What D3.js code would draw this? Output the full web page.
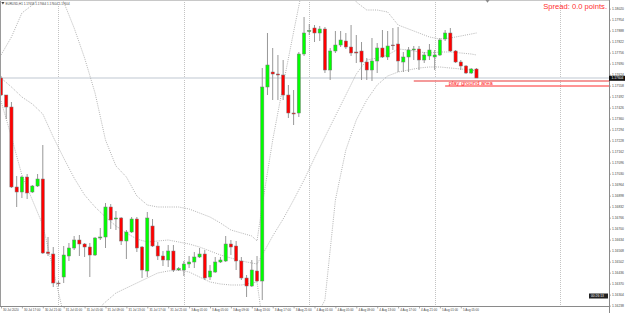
<!DOCTYPE html>
<html><head><meta charset="utf-8">
<script src="https://cdn.jsdelivr.net/npm/d3@7"></script>
<style>html,body{margin:0;padding:0;background:#fff;overflow:hidden}svg{display:block;font-family:"Liberation Sans",Arial,sans-serif}</style>
</head><body><svg id="c" width="625" height="313"></svg>
<script>
const symbolTitle = "EURUSD,H1  1.17658 1.17664 1.17604 1.17604";
const spreadText = "Spread: 0.0 points.";
const zoneLabel = "play ground area";
const bidPrice = 1.17604;
const zoneTop = 1.17586, zoneBottom = 1.17556;
const timerText = "00:26:13";

const openP = [1.17604,1.17502,1.17430,1.16950,1.16920,1.17010,1.16920,1.16956,1.16998,1.16560,1.16548,1.16374,1.16410,1.16536,1.16584,1.16632,1.16608,1.16590,1.16542,1.16644,1.16650,1.16830,1.16758,1.16764,1.16626,1.16680,1.16758,1.16590,1.16446,1.16716,1.16596,1.16536,1.16512,1.16566,1.16452,1.16452,1.16488,1.16500,1.16530,1.16548,1.16410,1.16440,1.16500,1.16506,1.16608,1.16596,1.16506,1.16404,1.16356,1.16446,1.16386,1.17550,1.17640,1.17628,1.17622,1.17502,1.17394,1.17394,1.17748,1.17883,1.17904,1.17874,1.17898,1.17652,1.17766,1.17802,1.17826,1.17790,1.17760,1.17766,1.17700,1.17652,1.17706,1.17784,1.17730,1.17802,1.17808,1.17700,1.17730,1.17772,1.17778,1.17712,1.17736,1.17730,1.17742,1.17838,1.17874,1.17766,1.17700,1.17676,1.17634,1.17658];
const highP = [1.17616,1.17502,1.17460,1.17016,1.17016,1.17028,1.16962,1.17028,1.17202,1.16650,1.16590,1.16386,1.16596,1.16614,1.16656,1.16662,1.16614,1.16614,1.16650,1.16704,1.16854,1.16848,1.16806,1.16770,1.16692,1.16770,1.16770,1.16596,1.16800,1.16758,1.16620,1.16566,1.16602,1.16602,1.16470,1.16506,1.16536,1.16560,1.16584,1.16572,1.16482,1.16530,1.16530,1.16656,1.16632,1.16626,1.16530,1.16422,1.16512,1.16536,1.17664,1.17874,1.17784,1.17742,1.17712,1.17562,1.17532,1.17760,1.17970,1.17928,1.17922,1.17916,1.17910,1.17784,1.17886,1.17886,1.17874,1.17922,1.17862,1.17820,1.17724,1.17844,1.17814,1.17892,1.17886,1.17904,1.17910,1.17760,1.17790,1.17796,1.17796,1.17760,1.17808,1.17772,1.17844,1.17892,1.17904,1.17772,1.17712,1.17682,1.17664,1.17664];
const lowP = [1.17496,1.17358,1.16944,1.16830,1.16884,1.16878,1.16914,1.16950,1.16548,1.16536,1.16350,1.16356,1.16374,1.16506,1.16572,1.16536,1.16530,1.16410,1.16536,1.16632,1.16584,1.16698,1.16692,1.16602,1.16518,1.16674,1.16560,1.16404,1.16410,1.16590,1.16512,1.16476,1.16470,1.16440,1.16446,1.16416,1.16464,1.16464,1.16524,1.16392,1.16392,1.16434,1.16494,1.16500,1.16542,1.16452,1.16392,1.16290,1.16350,1.16380,1.16272,1.17502,1.17472,1.17472,1.17472,1.17364,1.17322,1.17370,1.17736,1.17862,1.17820,1.17826,1.17634,1.17592,1.17754,1.17790,1.17778,1.17736,1.17694,1.17592,1.17592,1.17586,1.17634,1.17724,1.17712,1.17772,1.17640,1.17640,1.17640,1.17712,1.17652,1.17694,1.17712,1.17652,1.17736,1.17826,1.17760,1.17694,1.17652,1.17628,1.17628,1.17604];
const closeP = [1.17502,1.17430,1.16950,1.16920,1.17010,1.16914,1.16956,1.16998,1.16554,1.16551,1.16374,1.16371,1.16542,1.16584,1.16632,1.16608,1.16590,1.16542,1.16644,1.16650,1.16830,1.16752,1.16764,1.16626,1.16680,1.16758,1.16584,1.16452,1.16764,1.16596,1.16536,1.16512,1.16566,1.16452,1.16461,1.16488,1.16500,1.16530,1.16548,1.16404,1.16446,1.16500,1.16512,1.16608,1.16590,1.16506,1.16404,1.16356,1.16452,1.16386,1.17550,1.17682,1.17628,1.17622,1.17502,1.17394,1.17388,1.17748,1.17874,1.17889,1.17874,1.17898,1.17652,1.17766,1.17802,1.17832,1.17790,1.17754,1.17754,1.17700,1.17652,1.17706,1.17784,1.17730,1.17796,1.17799,1.17706,1.17730,1.17772,1.17778,1.17712,1.17742,1.17772,1.17742,1.17832,1.17874,1.17766,1.17700,1.17676,1.17634,1.17658,1.17604];

const bandIdx = [0,2,4,6,8,10,12,14,16,18,20,22,24,26,28,30,32,34,36,38,40,42,44,46,48,49,50,52,54,56,58,60,62,64,66,68,70,72,74,76,78,80,82,84,86,88,90,91];
const bandUpper = [1.17742,1.17850,1.17994,1.18042,1.18102,1.18120,1.18060,1.17904,1.17724,1.17514,1.17232,1.17076,1.17010,1.16896,1.16842,1.16830,1.16830,1.16830,1.16818,1.16794,1.16770,1.16734,1.16692,1.16674,1.16656,1.16626,1.16842,1.17232,1.17562,1.17880,1.18192,1.18432,1.18432,1.18312,1.18192,1.18060,1.18012,1.18012,1.18000,1.17922,1.17898,1.17874,1.17850,1.17838,1.17844,1.17856,1.17868,1.17874];
const bandMiddle = [1.17604,1.17550,1.17490,1.17448,1.17388,1.17250,1.17124,1.17004,1.16902,1.16830,1.16770,1.16716,1.16674,1.16638,1.16620,1.16626,1.16632,1.16620,1.16608,1.16590,1.16566,1.16542,1.16524,1.16506,1.16494,1.16488,1.16542,1.16656,1.16758,1.16872,1.16992,1.17124,1.17250,1.17376,1.17502,1.17628,1.17712,1.17724,1.17742,1.17778,1.17772,1.17760,1.17754,1.17760,1.17760,1.17754,1.17748,1.17742];
const bandLower = [1.17466,1.17250,1.17022,1.16872,1.16722,1.16452,1.16182,1.16092,1.16122,1.16200,1.16260,1.16314,1.16344,1.16374,1.16404,1.16434,1.16446,1.16452,1.16440,1.16410,1.16380,1.16368,1.16362,1.16362,1.16374,1.16380,1.16152,1.16002,1.15912,1.15942,1.16032,1.16152,1.16272,1.16872,1.17172,1.17352,1.17472,1.17562,1.17616,1.17640,1.17652,1.17664,1.17670,1.17670,1.17664,1.17658,1.17652,1.17646];

const priceTicks = [1.18020,1.17954,1.17888,1.17822,1.17756,1.17690,1.17624,1.17558,1.17492,1.17426,1.17360,1.17294,1.17228,1.17162,1.17096,1.17030,1.16964,1.16898,1.16832,1.16766,1.16700,1.16634,1.16568,1.16502,1.16436,1.16370,1.16304,1.16238];
const timeIdx = [0,4,8,12,16,20,24,28,32,36,40,44,48,52,56,60,64,68,72,76,80,84,88];
const timeLabels = ["30 Jul 2020","30 Jul 17:00","30 Jul 21:00","31 Jul 01:00","31 Jul 05:00","31 Jul 09:00","31 Jul 13:00","31 Jul 17:00","31 Jul 21:00","3 Aug 01:00","3 Aug 05:00","3 Aug 09:00","3 Aug 13:00","3 Aug 17:00","3 Aug 21:00","4 Aug 01:00","4 Aug 05:00","4 Aug 09:00","4 Aug 13:00","4 Aug 17:00","4 Aug 21:00","5 Aug 01:00","5 Aug 05:00"];
const dayIdx = [11,35,59,83,107];

const svg = d3.select("#c");
const plotR = 609, plotB = 306;
const x = d3.scaleLinear().domain([0,116]).range([1, 1 + 5.225*116]);
const y = d3.scaleLinear().domain([1.18072, 1.16236]).range([0, plotB]);

svg.append("rect").attr("width",625).attr("height",313).attr("fill","#fff");
svg.append("defs").append("clipPath").attr("id","pc").append("rect").attr("x",0).attr("y",0).attr("width",plotR).attr("height",plotB);
const g = svg.append("g").attr("clip-path","url(#pc)");

g.selectAll("line.day").data(dayIdx).join("line").attr("class","day")
  .attr("x1",d=>Math.round(x(d))+0.5).attr("x2",d=>Math.round(x(d))+0.5).attr("y1",0).attr("y2",plotB)
  .attr("stroke","#b4b4b4").attr("stroke-width",0.8).attr("stroke-dasharray","1 1");

g.append("line").attr("x1",0).attr("x2",plotR).attr("y1",y(bidPrice)).attr("y2",y(bidPrice))
  .attr("stroke","#dfe3e8").attr("stroke-width",1.8);

const line = d3.line().x((d,i)=>x(bandIdx[i])).y(d=>y(d));
[bandUpper,bandMiddle,bandLower].forEach(arr=>{
  g.append("path").attr("d",line(arr)).attr("fill","none").attr("stroke","#a0a0a0")
   .attr("stroke-width",0.8).attr("stroke-dasharray","1 1.2");
});

const idx = d3.range(openP.length);
g.selectAll("line.wick").data(idx).join("line").attr("class","wick")
  .attr("x1",i=>x(i)).attr("x2",i=>x(i)).attr("y1",i=>y(highP[i])).attr("y2",i=>y(lowP[i]))
  .attr("stroke","#8c8c8c").attr("stroke-width",0.9);
g.selectAll("rect.body").data(idx).join("rect").attr("class","body")
  .attr("x",i=>x(i)-1.6).attr("width",3.2)
  .attr("y",i=>Math.min(y(openP[i]),y(closeP[i])))
  .attr("height",i=>Math.max(0.8,Math.abs(y(openP[i])-y(closeP[i]))))
  .attr("fill",i=>closeP[i]>=openP[i]?"#00ff00":"#ff0000")
  .attr("stroke","#7a7a7a").attr("stroke-width",0.5);

g.append("line").attr("x1",x(79)).attr("x2",plotR).attr("y1",y(zoneTop)).attr("y2",y(zoneTop))
  .attr("stroke","#f07878").attr("stroke-width",1.3);
g.append("line").attr("x1",x(85)).attr("x2",plotR).attr("y1",y(zoneBottom)).attr("y2",y(zoneBottom))
  .attr("stroke","#ff2a2a").attr("stroke-width",1);
g.append("text").attr("x",x(85)+3.5).attr("y",y(zoneBottom)-1.2).text(zoneLabel)
  .attr("font-size",5.9).attr("fill","#ff2020");

svg.append("line").attr("x1",0.5).attr("x2",0.5).attr("y1",0).attr("y2",plotB).attr("stroke","#9a9a9a").attr("stroke-width",1);
svg.append("line").attr("x1",0).attr("x2",plotR).attr("y1",0.5).attr("y2",0.5).attr("stroke","#c8c8c8").attr("stroke-width",1);

const ya = d3.axisRight(y).tickValues(priceTicks).tickSize(2).tickFormat(d3.format(".5f"));
const yg = svg.append("g").attr("transform",`translate(${plotR},0)`).call(ya);
yg.select(".domain").remove();
yg.selectAll("line").attr("stroke","#777").attr("stroke-width",0.6);
yg.selectAll("text").attr("font-size",3.3).attr("fill","#444").attr("x",3);
svg.append("line").attr("x1",plotR+0.5).attr("x2",plotR+0.5).attr("y1",0).attr("y2",313).attr("stroke","#8a8a8a").attr("stroke-width",1);

const xa = d3.axisBottom(x).tickValues(timeIdx).tickSize(2.5).tickFormat((d,i)=>timeLabels[i]);
const xg = svg.append("g").attr("transform",`translate(0,${plotB})`).call(xa);
xg.select(".domain").remove();
xg.selectAll("line").attr("stroke","#777").attr("stroke-width",0.6);
xg.selectAll("text").attr("font-size",3.0).attr("fill","#444").attr("text-anchor","start").attr("dx",1.6).attr("dy",-0.9);
svg.append("line").attr("x1",0).attr("x2",plotR).attr("y1",plotB+0.5).attr("y2",plotB+0.5).attr("stroke","#8a8a8a").attr("stroke-width",1);

const by = y(bidPrice);
svg.append("rect").attr("x",plotR).attr("y",by-2.2).attr("width",16).attr("height",5).attr("fill","#111");
svg.append("text").attr("x",plotR+2.5).attr("y",by+1.3).text(d3.format(".5f")(bidPrice)).attr("font-size",3.3).attr("fill","#fff");

svg.append("rect").attr("x",589).attr("y",293.5).attr("width",19).attr("height",5).attr("fill","#222");
svg.append("text").attr("x",591).attr("y",297.3).text(timerText).attr("font-size",3.3).attr("fill","#fff");

svg.append("path").attr("d","M1.3,2 L4.5,2 L2.9,4.4 Z").attr("fill","#444");
svg.append("text").attr("x",5.5).attr("y",4.6).text(symbolTitle).attr("font-size",3.0).attr("fill","#444");
svg.append("text").attr("x",607).attr("y",8.6).attr("text-anchor","end").text(spreadText).attr("font-size",7.6).attr("fill","#ff3030");
svg.append("path").attr("d","M485.5,0 L489.5,0 L487.5,2.8 Z").attr("fill","#888");
</script></body></html>
